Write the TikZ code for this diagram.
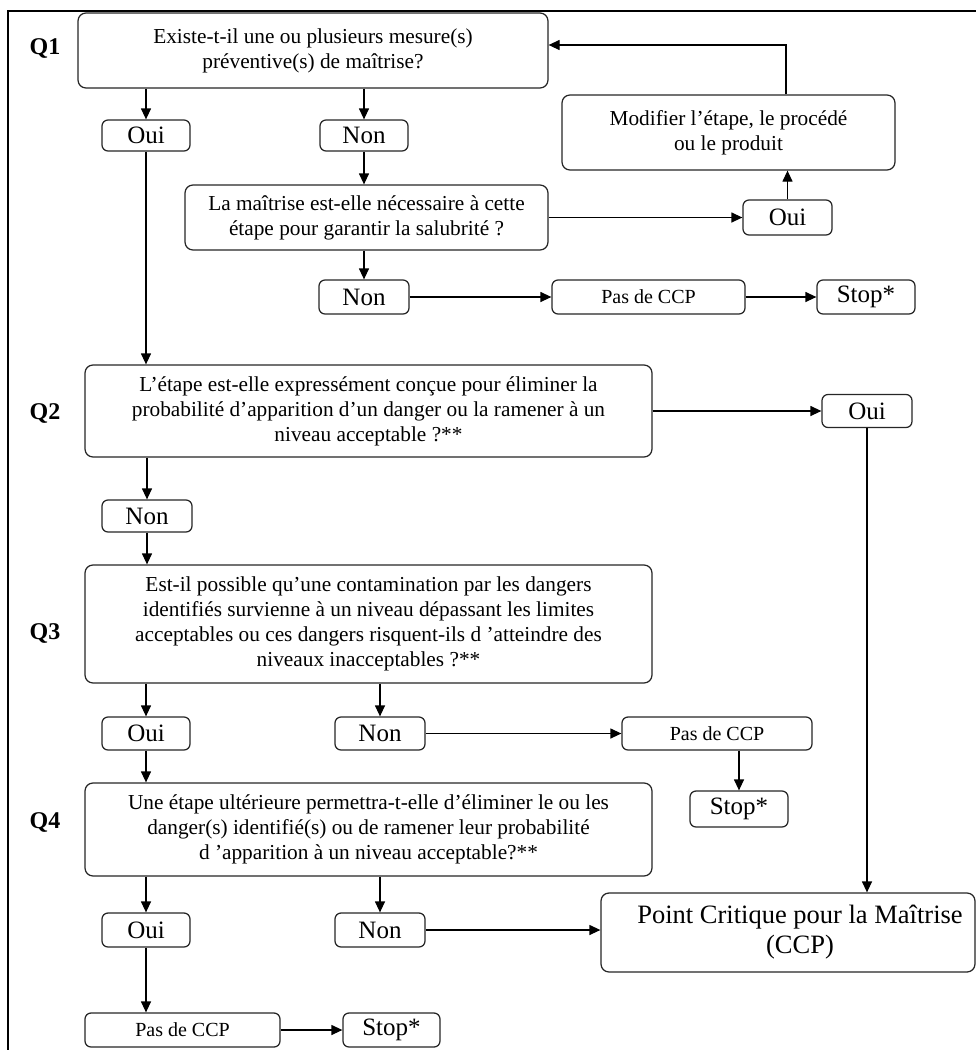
\documentclass[tikz,border=0pt]{standalone}
\usepackage{fontspec}
\setmainfont{Liberation Serif}
\usetikzlibrary{arrows.meta,calc}
\begin{document}
\begin{tikzpicture}[x=1pt,y=-1pt,
  box/.style={draw=black!85, line width=1.25pt, rounded corners=8pt, fill=white, inner sep=0pt, align=center},
  qtext/.style={font=\fontsize{21.3}{25}\selectfont},
  yn/.style={box, rounded corners=6pt, font=\fontsize{25}{28}\selectfont},
  small/.style={box, rounded corners=6pt, font=\fontsize{20}{24}\selectfont},
  qlab/.style={font=\fontsize{24}{28}\selectfont\bfseries},
  arr/.style={line width=1.25pt, -{Triangle[length=11pt,width=10pt]}}]
\useasboundingbox (0,0) rectangle (976,1050);
% frame
\draw[line width=1.25pt] (8,1070) -- (8,11) -- (990,11);

% labels
\node[qlab] (l1) at (45,48) {Q1};
\node[qlab] (l2) at (45,413) {Q2};
\node[qlab] (l3) at (45,633) {Q3};
\node[qlab] (l4) at (45,822) {Q4};

% nodes
\node[box, qtext, minimum width=470, minimum height=75] (q1) at (313,50.5)
  {Existe-t-il une ou plusieurs mesure(s)\\préventive(s) de maîtrise?};
\node[yn, minimum width=88, minimum height=31] (oui1) at (146,135.5) {Oui};
\node[yn, minimum width=88, minimum height=31] (non1) at (364,135.5) {Non};
\node[box, qtext, minimum width=363, minimum height=65] (maitr) at (366.5,217.5)
  {La maîtrise est-elle nécessaire à cette\\étape pour garantir la salubrité ?};
\node[yn, minimum width=89, minimum height=35] (oui2) at (787.5,217.5) {Oui};
\node[box, qtext, minimum width=333, minimum height=75] (modif) at (728.5,132.5)
  {Modifier l’étape, le procédé\\ou le produit};
\node[yn, minimum width=90, minimum height=34] (non2) at (364,297) {Non};
\node[small, minimum width=193, minimum height=34] (pas1) at (648.5,297) {Pas de CCP};
\node[yn, minimum width=98, minimum height=34] (stop1) at (866,297) {Stop*};

\node[box, qtext, minimum width=567, minimum height=92] (q2) at (368.5,411)
  {L’étape est-elle expressément conçue pour éliminer la\\probabilité d’apparition d’un danger ou la ramener à un\\niveau acceptable ?**};
\node[yn, minimum width=90, minimum height=33] (oui3) at (867,411) {Oui};
\node[yn, minimum width=90, minimum height=32] (non3) at (147,516) {Non};

\node[box, qtext, minimum width=567, minimum height=118] (q3) at (368.5,624)
  {Est-il possible qu’une contamination par les dangers\\identifiés survienne à un niveau dépassant les limites\\acceptables ou ces dangers risquent-ils d ’atteindre des\\niveaux inacceptables ?**};
\node[yn, minimum width=88, minimum height=33] (oui4) at (146,733.5) {Oui};
\node[yn, minimum width=90, minimum height=33] (non4) at (380,733.5) {Non};
\node[small, minimum width=190, minimum height=33] (pas2) at (717,733.5) {Pas de CCP};
\node[yn, minimum width=98, minimum height=36] (stop2) at (739,809) {Stop*};

\node[box, qtext, minimum width=567, minimum height=93] (q4) at (368.5,829.5)
  {Une étape ultérieure permettra-t-elle d’éliminer le ou les\\danger(s) identifié(s) ou de ramener leur probabilité\\d ’apparition à un niveau acceptable?**};
\node[yn, minimum width=88, minimum height=34] (oui5) at (146,930) {Oui};
\node[yn, minimum width=90, minimum height=34] (non5) at (380,930) {Non};
\node[box, minimum width=374, minimum height=79, font=\fontsize{26.5}{30}\selectfont] (ccp) at (788,932.5)
  {\hspace*{24pt}Point Critique pour la Maîtrise\\\hspace*{24pt}(CCP)};
\node[small, minimum width=195, minimum height=34] (pas3) at (182.5,1030) {Pas de CCP};
\node[yn, minimum width=97, minimum height=34] (stop3) at (391.5,1030) {Stop*};

% connectors
\draw[arr] (q1.south -| oui1.north) -- (oui1.north);
\draw[arr] (q1.south -| non1.north) -- (non1.north);
\draw[arr] (non1.south) -- (non1.south |- maitr.north);
\draw[arr] (maitr.east) -- (oui2.west);
\draw[arr] (oui2.north) -- (oui2.north |- modif.south);
\coordinate (fb) at (786,45);
\draw[arr] (modif.north -| fb) |- (q1.east |- fb);
\draw[arr] (maitr.south -| non2.north) -- (non2.north);
\draw[arr] (non2.east) -- (pas1.west);
\draw[arr] (pas1.east) -- (stop1.west);

\draw[arr] (oui1.south) -- (oui1.south |- q2.north);
\draw[arr] (q2.east) -- (oui3.west);
\draw[arr] (oui3.south) -- (oui3.south |- ccp.north);
\draw[arr] (q2.south -| non3.north) -- (non3.north);
\draw[arr] (non3.south) -- (non3.south |- q3.north);

\draw[arr] (q3.south -| oui4.north) -- (oui4.north);
\draw[arr] (q3.south -| non4.north) -- (non4.north);
\draw[arr] (non4.east) -- (pas2.west);
\draw[arr] (pas2.south -| stop2.north) -- (stop2.north);
\draw[arr] (oui4.south) -- (oui4.south |- q4.north);

\draw[arr] (q4.south -| oui5.north) -- (oui5.north);
\draw[arr] (q4.south -| non5.north) -- (non5.north);
\draw[arr] (non5.east) -- (non5.east -| ccp.west);
\draw[arr] (oui5.south) -- (oui5.south |- pas3.north);
\draw[arr] (pas3.east) -- (stop3.west);
\end{tikzpicture}
\end{document}
